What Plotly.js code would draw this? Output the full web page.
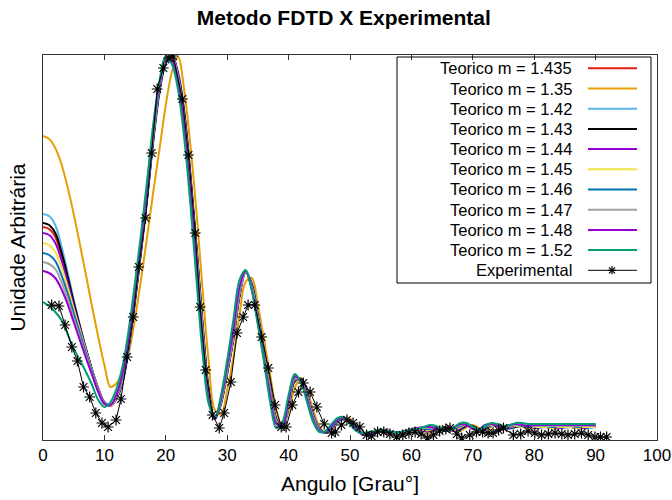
<!DOCTYPE html>
<html>
<head>
<meta charset="utf-8">
<script src="https://cdn.plot.ly/plotly-3.0.1.min.js"></script>
<style>html,body{margin:0;padding:0;background:#fff;}#chart{width:672px;height:500px;}</style>
</head>
<body>
<div id="chart"></div>
<script>
// Angle [degrees] shared by all theoretical curves
const angles = [0,1,2,3,4,5,6,7,8,9,10,11,12,13,14,15,16,17,18,19,20,21,22,23,24,25,26,27,28,29,30,31,32,33,34,35,36,37,38,39,40,41,42,43,44,45,46,47,48,49,50,51,52,53,54,55,56,57,58,59,60,61,62,63,64,65,66,67,68,69,70,71,72,73,74,75,76,77,78,79,80,81,82,83,84,85,86,87,88,89,90];

// Theoretical curves (arbitrary units)
const m1435 = [213,211,203,185,162,137,113,91,70,51, 37,34,42,60,95,141,191,245,303,351, 377,384,365,326,264,191,113,48,21,37, 68,102,145,168,155,124,89,52,20,12, 34,60,60,45,24,11,7,12,19,22, 19,12,6,5,8,10,9,7,7,9, 11,11,9,9,12,13,11,9,12,15, 13,10,12,15,14,11,12,14,14,12, 12,13,13,12,12,13,13,12,12,13,13];
const m135 = [304,301,292,276,253,226,196,165,133,103, 75,53,57,68,88,122,162,205,250,292, 335,368,383,350,295,228,150,78,30,26, 50,82,125,158,162,135,100,65,30,14, 28,52,62,50,30,14,7,10,17,22, 21,14,8,5,7,10,10,8,6,7, 10,11,9,7,9,12,12,9,9,13, 15,12,10,13,16,14,12,14,16,15, 14,15,16,15,15,16,16,15,15,16,16];
const m142 = [226,224,215,194,168,140,115,91,69,50, 37,35,42,58,92,138,188,242,300,348, 376,384,368,330,268,196,118,52,22,36, 66,100,142,167,157,126,91,55,22,12, 32,58,61,47,26,12,7,11,18,22, 20,13,7,5,7,10,10,8,7,8, 10,11,10,8,10,13,12,9,10,14, 14,11,11,14,15,12,11,13,14,13, 12,12,13,13,12,12,13,13,12,12,13];
const m143 = [217,215,207,188,164,138,114,91,70,51, 37,34,42,59,94,140,190,244,302,350, 377,384,366,328,265,193,115,50,21,37, 67,101,144,168,156,124,90,53,21,12, 33,59,61,46,25,11,7,12,19,22, 19,12,6,5,8,10,9,7,7,9, 10,11,10,9,11,13,12,9,11,14, 14,10,11,15,14,12,12,13,14,13, 12,13,13,12,12,13,13,12,12,13,13];
const m144 = [207,205,197,180,158,134,112,90,70,52, 38,34,42,60,96,142,192,246,305,352, 378,384,365,325,262,190,112,47,21,38, 68,102,145,168,155,123,88,52,20,12, 34,60,60,45,24,11,7,12,19,22, 19,12,6,5,8,10,9,7,7,9, 11,11,9,9,12,13,11,9,12,15, 13,10,12,15,14,11,12,14,14,12, 12,13,13,12,12,13,13,12,12,13,13];
const m145 = [197,195,188,173,153,131,110,89,69,51, 37,34,43,62,98,145,195,249,307,354, 379,383,362,321,258,186,108,45,21,39, 70,104,147,168,153,121,86,50,19,12, 35,61,59,44,23,10,7,13,20,22, 18,11,6,6,8,10,9,7,7,9, 11,12,10,10,13,13,10,10,13,15, 12,10,13,15,13,11,13,14,13,12, 13,13,13,12,13,13,13,12,13,13,13];
const m146 = [187,185,179,165,147,127,107,87,68,50, 37,35,44,64,100,147,197,251,309,355, 380,382,360,318,254,182,104,43,21,40, 72,106,149,169,152,120,84,48,18,13, 37,62,59,43,22,10,7,13,20,22, 18,11,6,6,8,10,9,7,7,9, 11,12,11,11,13,12,10,11,14,15, 12,10,13,16,14,12,13,15,14,13, 14,14,14,13,14,14,14,13,14,14,14];
const m147 = [178,176,171,158,141,122,103,84,66,49, 36,35,45,66,102,149,199,253,311,356, 381,381,358,315,250,178,100,41,21,41, 74,108,151,169,151,118,82,46,17,14, 39,63,58,42,21,9,8,14,21,22, 17,10,6,7,8,10,9,7,8,9, 11,12,12,12,13,11,10,12,15,15, 12,11,14,16,14,13,14,15,15,14, 14,14,14,14,14,14,14,14,14,14,14];
const m148 = [169,167,162,151,136,118,100,82,65,48, 36,35,46,68,104,151,201,255,313,357, 382,380,356,312,247,174,97,39,21,42, 75,110,153,169,150,117,81,44,16,15, 40,64,58,41,20,9,8,14,21,22, 17,10,6,7,8,10,9,8,8,9, 10,12,13,13,12,10,10,13,16,15, 11,11,15,16,14,13,15,16,15,14, 15,15,15,15,15,15,15,15,15,15,15];
const m152 = [138,134,128,120,106,91,80,68,55,40, 33,38,52,75,112,158,208,262,318,360, 384,376,350,302,236,160,86,36,22,45, 80,120,160,170,150,115,78,38,12,18, 45,66,58,38,18,8,9,16,22,23, 16,9,7,8,9,10,9,8,8,9, 10,11,13,15,14,10,9,13,17,17, 13,11,14,17,16,14,15,17,17,16, 16,16,16,16,16,16,16,16,16,16,16];

// Experimental measurements
const expAngle = [1.4,2.6,3.6,4.7,5.6,6.6,7.6,8.6,9.6,10.6,11.9,12.7,13.7,14.7,15.6,16.7,17.7,18.6,19.6,20.5,21.2,22.7,23.7,24.8,25.6,26.5,27.6,28.7,29.5,30.6,31.6,32.6,33.4,34.5,35.6,36.7,37.8,38.8,39.6,40.6,41.6,42.4,43.5,44.6,45.8,47.0,47.6,48.6,49.5,50.5,51.6,52.7,53.5,54.5,55.5,56.5,57.6,58.6,59.6,60.6,61.6,62.6,63.6,64.6,65.6,66.3,67.4,68.2,69.5,70.6,71.6,72.5,73.3,74.2,75.0,76.6,77.8,79.0,80.1,81.2,82.3,83.4,84.5,85.5,86.6,87.7,88.8,89.9,90.8,91.8];
const expValue = [135,134,115,93,79,53,43,27,17,13,20,41,83,123,173,222,287,351,372,382,384,341,285,207,133,70,25,12,27,58,107,123,135,135,103,72,35,13,13,35,48,57,48,33,16,7,8,15,20,17,13,5,4,8,8,6,3,5,7,8,6,2,5,9,11,12,6,2,5,8,8,7,7,10,12,5,6,9,7,5,6,7,6,5,6,7,5,3,3,3];

const names = ['Teorico m = 1.435','Teorico m = 1.35','Teorico m = 1.42','Teorico m = 1.43','Teorico m = 1.44','Teorico m = 1.45','Teorico m = 1.46','Teorico m = 1.47','Teorico m = 1.48','Teorico m = 1.52','Experimental'];
const colors = ['#e51e10','#e69f00','#56b4e9','#000000','#9400d3','#f0e442','#0072b2','#a0a0a0','#9400d3','#009e73','#000000'];
const theory = [m1435,m135,m142,m143,m144,m145,m146,m147,m148,m152];

const FONT = '"Liberation Sans Narrow", "Arial Narrow", "Liberation Sans", Arial, sans-serif';

const traces = theory.map((ys,i) => ({
  type:'scatter', mode:'lines', x:angles, y:ys, name:names[i],
  line:{color:colors[i], width:2, shape:'spline', smoothing:1},
  showlegend:false, hoverinfo:'skip'
}));
traces.push({
  type:'scatter', mode:'lines+markers', x:expAngle, y:expValue, name:names[10],
  line:{color:'#000', width:1},
  marker:{symbol:'asterisk-open', size:9, color:'#000', line:{color:'#000', width:1.2}},
  showlegend:false, hoverinfo:'skip'
});

// Custom legend (text right-aligned, sample to the right), gnuplot style
const L = 43, R = 657, T = 55, B = 440;
const px = v => (v - L) / (R - L);
const py = v => (B - v) / (B - T);
const annotations = [];
const shapes = [{type:'rect', xref:'paper', yref:'paper', x0:px(397), x1:px(651), y0:py(283), y1:py(57), line:{color:'#000', width:1}, fillcolor:'rgba(0,0,0,0)', layer:'above'}];
names.forEach((n,i) => {
  const yy = py(68.3 + 20.2*i);
  annotations.push({xref:'paper', yref:'paper', x:px(574), y:yy, xanchor:'right', yanchor:'middle', text:n, showarrow:false, font:{family:FONT, size:16.5, color:'#000'}});
  shapes.push({type:'line', xref:'paper', yref:'paper', x0:px(588), x1:px(637), y0:yy, y1:yy, line:{color:colors[i], width: i===10 ? 1 : 2}, layer:'above'});
  if (i === 10) {
    const cx = px(612);
    [[-4,0,4,0],[0,-4,0,4],[-3,-3,3,3],[-3,3,3,-3]].forEach(s => {
      shapes.push({type:'line', xref:'paper', yref:'paper', xsizemode:'pixel', ysizemode:'pixel', xanchor:cx, yanchor:yy, x0:s[0], x1:s[2], y0:s[1], y1:s[3], line:{color:'#000', width:1.2}, layer:'above'});
    });
  }
});

const layout = {
  width:672, height:500,
  margin:{l:L, r:672-R, t:T, b:500-B},
  paper_bgcolor:'#fff', plot_bgcolor:'#fff',
  title:{text:'<b>Metodo FDTD X Experimental</b>', font:{family:FONT, size:21, color:'#000'}, x:0.49, xref:'paper', y:1-18/500, yref:'container', yanchor:'middle'},
  xaxis:{range:[0,100], dtick:10, tick0:0, ticks:'inside', ticklen:5, tickcolor:'#333', showline:true, linecolor:'#333', linewidth:1, mirror:'allticks', showgrid:false, zeroline:false,
    tickfont:{family:FONT, size:17, color:'#000'},
    title:{text:'Angulo [Grau°]', font:{family:FONT, size:21, color:'#000'}, standoff:11}},
  yaxis:{range:[0,385], showticklabels:false, ticks:'', showline:true, linecolor:'#333', linewidth:1, mirror:true, showgrid:false, zeroline:false,
    title:{text:'Unidade Arbitrária', font:{family:FONT, size:21, color:'#000'}, standoff:10}},
  annotations:annotations, shapes:shapes, showlegend:false
};

Plotly.newPlot('chart', traces, layout, {staticPlot:true, displayModeBar:false});
</script>
</body>
</html>
